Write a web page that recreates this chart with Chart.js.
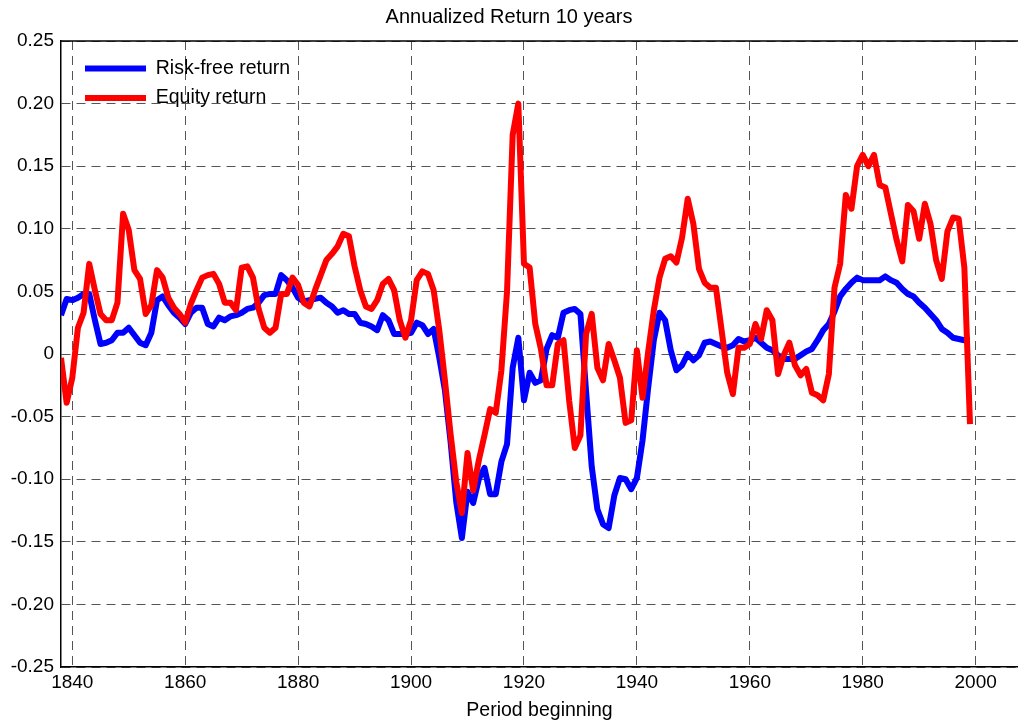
<!DOCTYPE html>
<html>
<head>
<meta charset="utf-8">
<title>Annualized Return 10 years</title>
<script src="https://cdn.jsdelivr.net/npm/chart.js@4.4.1/dist/chart.umd.min.js"></script>
<style>
html, body { margin: 0; padding: 0; background: #fff; }
#myChart { display: block; }
</style>
</head>
<body>
<canvas id="myChart" width="1018" height="725"></canvas>
<script>
// one value per year, starting at firstYear
var firstYear = 1838;

var riskFree = [
  0.031, 0.044, 0.043, 0.045, 0.048, 0.048, 0.027, 0.008, 0.009, 0.011, // 1838-1847
  0.017, 0.017, 0.021, 0.015, 0.009, 0.007, 0.017, 0.043, 0.046, 0.039, // 1848-1857
  0.033, 0.029, 0.024, 0.033, 0.037, 0.037, 0.024, 0.022, 0.029, 0.027, // 1858-1867
  0.030, 0.031, 0.033, 0.036, 0.037, 0.041, 0.047, 0.048, 0.048, 0.063, // 1868-1877
  0.059, 0.053, 0.045, 0.042, 0.043, 0.044, 0.045, 0.041, 0.038, 0.033, // 1878-1887
  0.035, 0.032, 0.032, 0.025, 0.024, 0.022, 0.019, 0.031, 0.027, 0.016, // 1888-1897
  0.016, 0.016, 0.017, 0.025, 0.023, 0.016, 0.020, -0.003, -0.029, -0.070, // 1898-1907
  -0.118, -0.147, -0.110, -0.119, -0.100, -0.091, -0.112, -0.112, -0.086, -0.072, // 1908-1917
  -0.011, 0.013, -0.037, -0.015, -0.023, -0.021, 0.004, 0.015, 0.013, 0.033, // 1918-1927
  0.035, 0.036, 0.032, -0.030, -0.090, -0.124, -0.136, -0.139, -0.113, -0.099, // 1928-1937
  -0.100, -0.108, -0.099, -0.069, -0.027, 0.011, 0.033, 0.027, 0.003, -0.013, // 1938-1947
  -0.009, 0.000, -0.005, -0.001, 0.009, 0.010, 0.008, 0.006, 0.005, 0.007, // 1948-1957
  0.012, 0.010, 0.011, 0.013, 0.009, 0.005, 0.003, -0.001, -0.004, -0.004, // 1958-1967
  -0.004, -0.001, 0.002, 0.004, 0.011, 0.019, 0.024, 0.034, 0.046, 0.052, // 1968-1977
  0.057, 0.061, 0.059, 0.059, 0.059, 0.059, 0.062, 0.059, 0.057, 0.052, // 1978-1987
  0.048, 0.046, 0.041, 0.037, 0.032, 0.027, 0.020, 0.017, 0.013, 0.012, // 1988-1997
  0.011, 0.011                                                          // 1998-1999
];

var equity = [
  -0.003, -0.039, -0.019, 0.021, 0.033, 0.072, 0.051, 0.032, 0.027, 0.027, // 1838-1847
  0.041, 0.112, 0.099, 0.067, 0.060, 0.032, 0.039, 0.067, 0.061, 0.045, // 1848-1857
  0.037, 0.032, 0.025, 0.040, 0.051, 0.061, 0.063, 0.064, 0.056, 0.041, // 1858-1867
  0.041, 0.035, 0.069, 0.070, 0.061, 0.036, 0.021, 0.017, 0.021, 0.048, // 1868-1877
  0.048, 0.061, 0.055, 0.041, 0.038, 0.051, 0.063, 0.075, 0.080, 0.086, // 1878-1887
  0.096, 0.094, 0.070, 0.051, 0.038, 0.036, 0.043, 0.056, 0.060, 0.051, // 1888-1897
  0.027, 0.013, 0.027, 0.059, 0.066, 0.064, 0.051, 0.019, -0.021, -0.064, // 1898-1907
  -0.102, -0.127, -0.079, -0.109, -0.085, -0.065, -0.044, -0.047, -0.013, 0.050, // 1908-1917
  0.175, 0.200, 0.072, 0.069, 0.024, 0.004, -0.025, -0.025, 0.008, 0.011, // 1918-1927
  -0.037, -0.075, -0.065, 0.016, 0.032, -0.011, -0.021, 0.008, -0.005, -0.019, // 1928-1937
  -0.055, -0.053, 0.003, -0.035, 0.002, 0.035, 0.061, 0.076, 0.078, 0.073, // 1938-1947
  0.093, 0.124, 0.104, 0.068, 0.057, 0.053, 0.053, 0.019, -0.015, -0.032, // 1948-1957
  0.005, 0.005, 0.008, 0.024, 0.012, 0.035, 0.027, -0.016, -0.001, 0.009, // 1958-1967
  -0.009, -0.017, -0.012, -0.031, -0.033, -0.037, -0.016, 0.053, 0.072, 0.127, // 1968-1977
  0.116, 0.150, 0.159, 0.150, 0.159, 0.135, 0.133, 0.112, 0.091, 0.074, // 1978-1987
  0.119, 0.114, 0.092, 0.120, 0.104, 0.075, 0.060, 0.098, 0.109, 0.108, // 1988-1997
  0.069, -0.056                                                         // 1998-1999
];

var xTicks = [1840, 1860, 1880, 1900, 1920, 1940, 1960, 1980, 2000];
var yTicks = [-0.25, -0.20, -0.15, -0.10, -0.05, 0, 0.05, 0.10, 0.15, 0.20, 0.25];

var FONT = "'Liberation Sans', Arial, Helvetica, sans-serif";

function toPoints(values) {
  var pts = [];
  values.forEach(function (v, i) {
    pts.push({ x: firstYear + i, y: v });
  });
  return pts;
}

// solid frame line along the top of the axes
var topFrame = {
  id: 'topFrame',
  afterDraw: function (chart) {
    var a = chart.chartArea;
    var ctx = chart.ctx;
    ctx.save();
    ctx.strokeStyle = '#000';
    ctx.lineWidth = 1.5;
    ctx.beginPath();
    ctx.moveTo(a.left, a.top);
    ctx.lineTo(a.right, a.top);
    ctx.stroke();
    ctx.restore();
  }
};

// put the legend in the upper left corner of the plot
var legendSpot = {
  id: 'legendSpot',
  afterLayout: function (chart) {
    var lg = chart.legend;
    var a = chart.chartArea;
    lg.left = a.left + 14;
    lg.top = a.top + 7.75;
    lg.right = a.left + 420;
    lg.bottom = a.top + 140;
    lg.width = lg.right - lg.left;
    lg.height = lg.bottom - lg.top;
  }
};

Chart.defaults.font.family = FONT;
Chart.defaults.color = '#000';

var ctx = document.getElementById('myChart').getContext('2d');
var myChart = new Chart(ctx, {
  type: 'line',
  data: {
    datasets: [{
      label: 'Risk-free return',
      data: toPoints(riskFree),
      borderColor: '#0000ff',
      backgroundColor: '#0000ff',
      borderWidth: 6,
      pointRadius: 0,
      tension: 0,
      borderJoinStyle: 'round',
      fill: false,
      order: 2
    }, {
      label: 'Equity return',
      data: toPoints(equity),
      borderColor: '#ff0000',
      backgroundColor: '#ff0000',
      borderWidth: 6,
      pointRadius: 0,
      tension: 0,
      borderJoinStyle: 'round',
      fill: false,
      order: 1
    }]
  },
  options: {
    responsive: false,
    animation: false,
    devicePixelRatio: 1,
    layout: { padding: 0 },
    plugins: {
      title: {
        display: true,
        text: 'Annualized Return 10 years',
        font: { size: 20, weight: 'normal' },
        color: '#000',
        padding: { top: 5, bottom: 12 }
      },
      legend: {
        position: 'chartArea',
        align: 'start',
        labels: {
          usePointStyle: true,
          pointStyle: 'line',
          pointStyleWidth: 61,
          padding: 10,
          color: '#000',
          font: { size: 19.5 },
          sort: function (a, b) { return a.datasetIndex - b.datasetIndex; }
        }
      },
      tooltip: { enabled: false }
    },
    scales: {
      x: {
        type: 'linear',
        min: 1838,
        max: 2007.5,
        afterBuildTicks: function (scale) {
          scale.ticks = xTicks.map(function (v) { return { value: v }; });
        },
        afterFit: function (scale) { scale.height = 58; },
        ticks: {
          padding: 4,
          maxRotation: 0,
          font: { size: 19 },
          color: '#000',
          callback: function (v) { return String(v); }
        },
        grid: { color: '#555', lineWidth: 1, drawTicks: false },
        border: { display: true, color: '#000', width: 1.5, dash: [9, 6] },
        title: {
          display: true,
          text: 'Period beginning',
          font: { size: 19.5 },
          color: '#000',
          padding: { top: 0, bottom: 3 }
        }
      },
      y: {
        type: 'linear',
        min: -0.25,
        max: 0.25,
        afterBuildTicks: function (scale) {
          scale.ticks = yTicks.map(function (v) { return { value: v }; });
        },
        afterFit: function (scale) { scale.width = 61; },
        ticks: {
          padding: 7,
          font: { size: 19 },
          color: '#000',
          callback: function (v) {
            return Math.abs(v) < 1e-9 ? '0' : v.toFixed(2);
          }
        },
        grid: { color: '#555', lineWidth: 1, drawTicks: false },
        border: { display: true, color: '#000', width: 1.5, dash: [9, 6] }
      }
    }
  },
  plugins: [topFrame, legendSpot]
});
</script>
</body>
</html>
